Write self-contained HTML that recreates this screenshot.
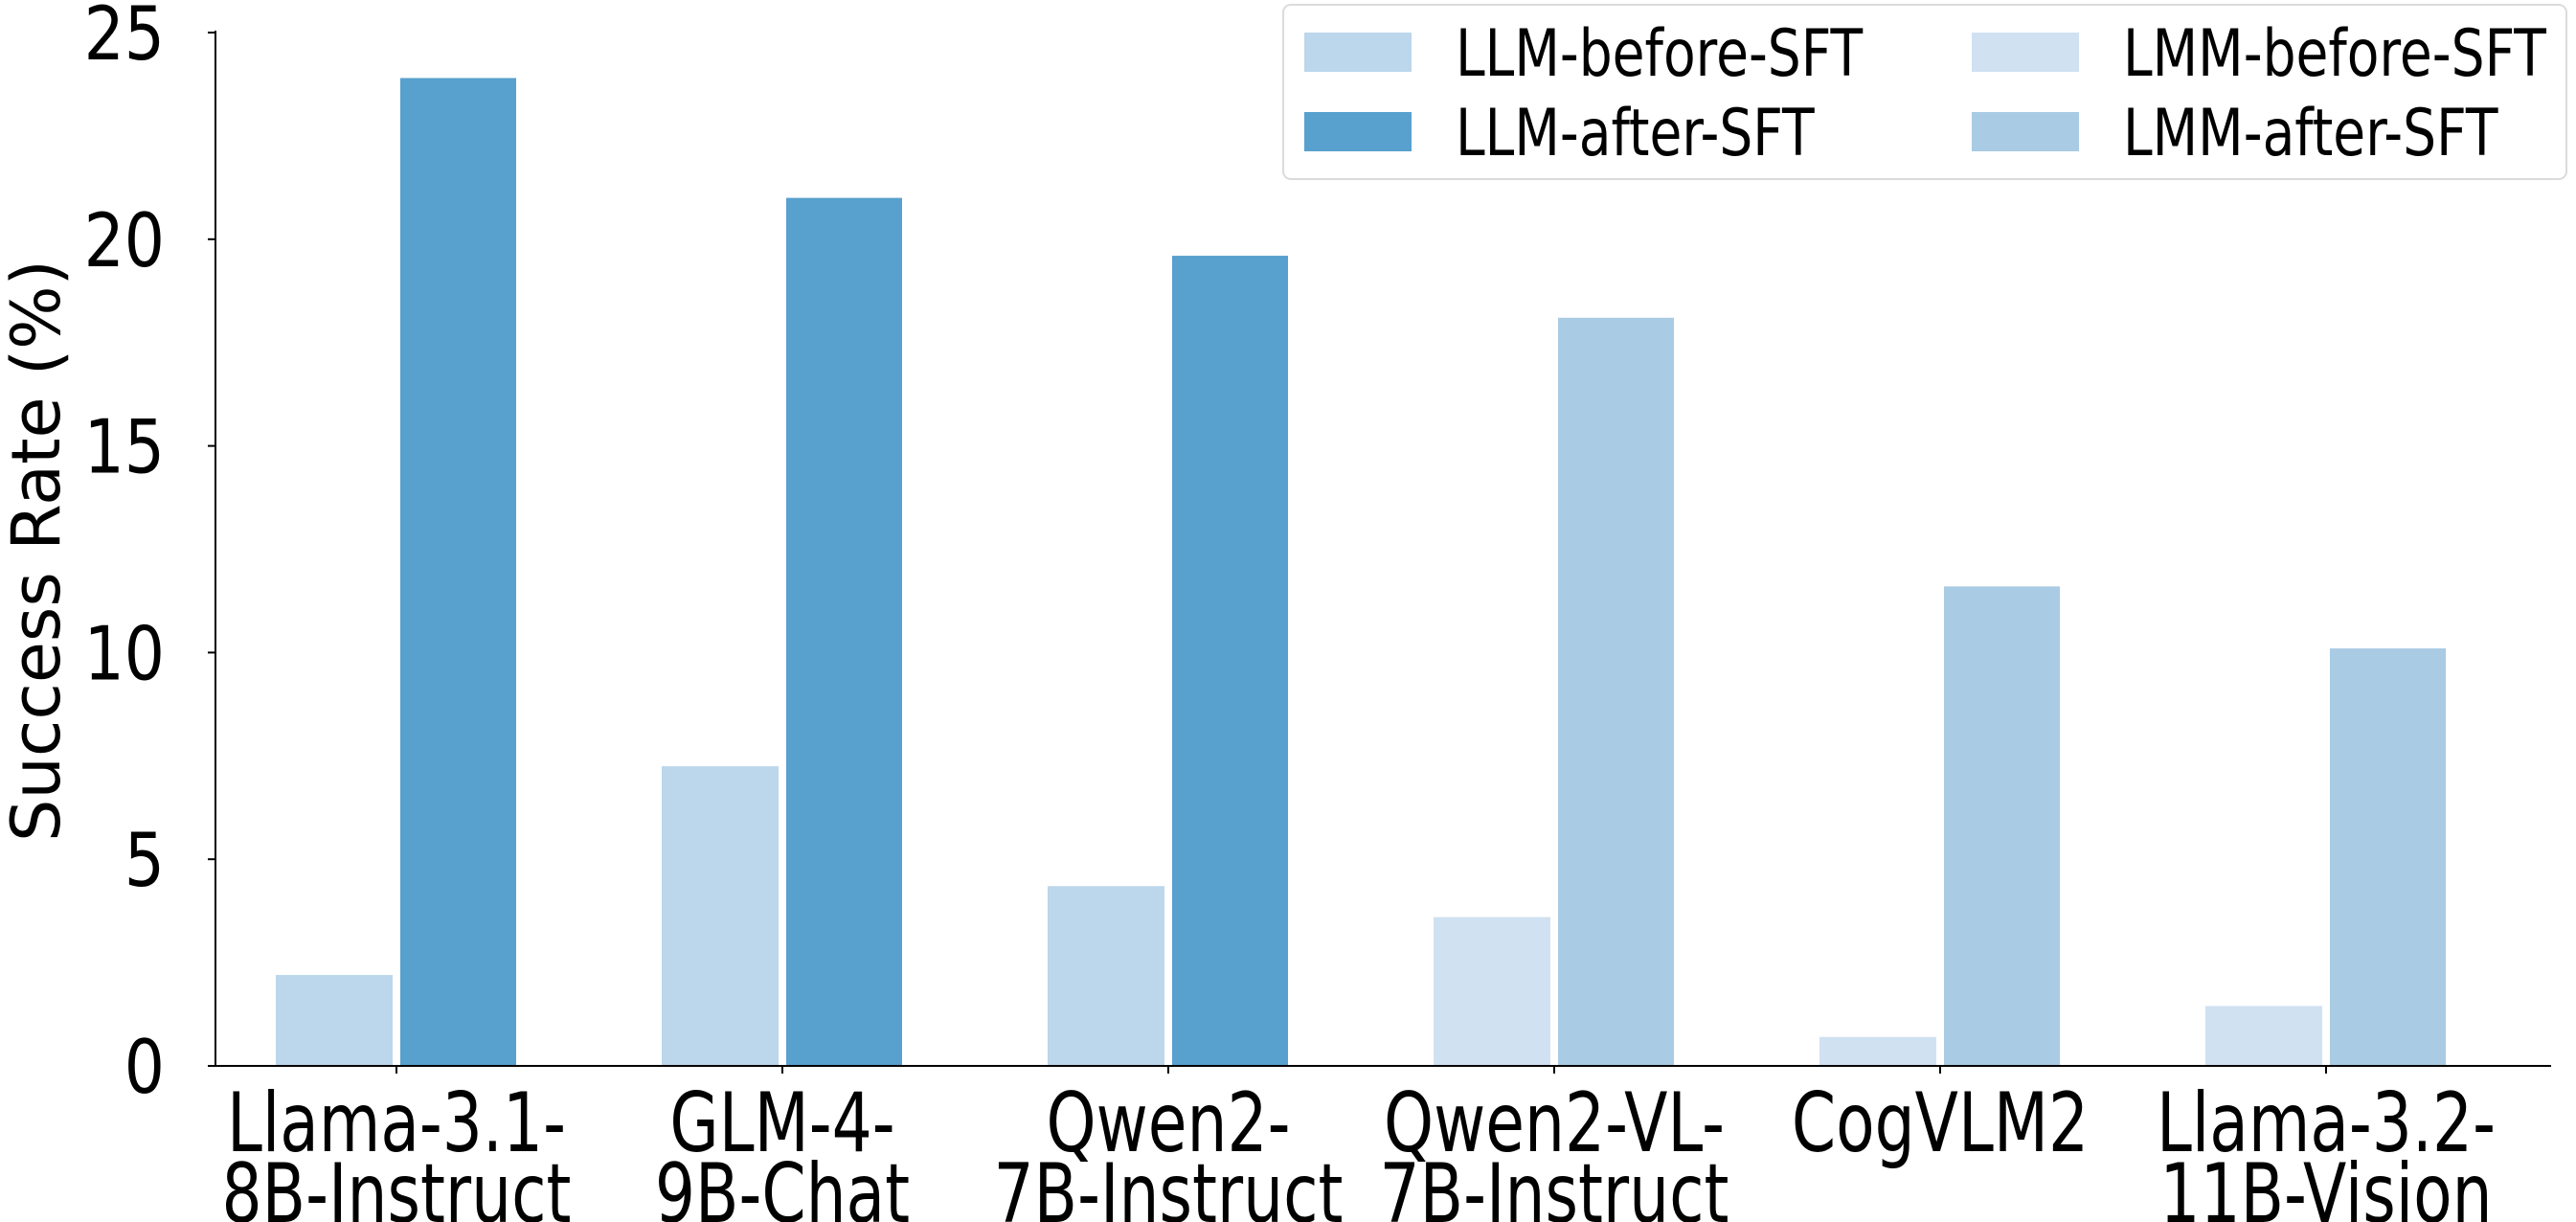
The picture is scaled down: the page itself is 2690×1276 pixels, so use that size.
<!DOCTYPE html>
<html><head><meta charset="utf-8"><style>
html,body{margin:0;padding:0;background:#fff;}
svg{display:block;font-family:"DejaVu Sans","Liberation Sans",sans-serif;}
</style></head><body>
<svg id="chart" width="2690" height="1276" viewBox="0 0 2690 1276"></svg>
<script>
const categories = [["Llama-3.1-","8B-Instruct"],["GLM-4-","9B-Chat"],["Qwen2-","7B-Instruct"],["Qwen2-VL-","7B-Instruct"],["CogVLM2",""],["Llama-3.2-","11B-Vision"]];
const beforeValues = [2.2, 7.25, 4.35, 3.6, 0.7, 1.45];
const afterValues = [23.9, 21.0, 19.6, 18.1, 11.6, 10.1];
const isLMM = [false, false, false, true, true, true];
const yTicks = [0, 5, 10, 15, 20, 25];
const legendLabels = ["LLM-before-SFT","LLM-after-SFT","LMM-before-SFT","LMM-after-SFT"];

const NS="http://www.w3.org/2000/svg";
const svg=document.getElementById('chart');
const C={llmB:"#bcd6eb",llmA:"#58a0cd",lmmB:"#d0e1f1",lmmA:"#a9cbe4"};
const X0=225,X1=2664,Y0=1113,Y25=34;
const y=v=>Y0-(v/25)*(Y0-Y25);
const cx=i=>414+i*403;
function mk(t,a,txt){const e=document.createElementNS(NS,t);for(const k in a)e.setAttribute(k,a[k]);if(txt!==undefined)e.textContent=txt;svg.appendChild(e);return e;}
function sText(x,yy,s,size,sx,anchor){
  return mk('text',{x:0,y:0,'text-anchor':anchor,'font-size':size,fill:'#000',transform:`translate(${x},${yy}) scale(${sx},1)`},s);
}

categories.forEach((c,i)=>{
  const b=mk('rect',{x:cx(i)-126,y:y(beforeValues[i]),width:122,height:Y0-y(beforeValues[i]),fill:isLMM[i]?C.lmmB:C.llmB});
  
  
  const a=mk('rect',{x:cx(i)+4,y:y(afterValues[i]),width:121,height:Y0-y(afterValues[i]),fill:isLMM[i]?C.lmmA:C.llmA});
  
  
  const tk=mk('line',{x1:cx(i),x2:cx(i),y1:Y0,y2:Y0+8,stroke:'#000','stroke-width':2});
  
  
  c.forEach((ln,j)=>{ if(!ln)return;
    const t=sText(cx(i),1202+j*74,ln,86,0.77,'middle');
    
    
  });
});
yTicks.forEach(v=>{
  const l=mk('line',{x1:X0-8,x2:X0,y1:y(v),y2:y(v),stroke:'#000','stroke-width':2});
  
  
  const t=sText(172,y(v)+28,String(v),78,0.85,'end');
  
  
});
const ys=mk('line',{x1:X0,x2:X0,y1:Y25-2,y2:Y0,stroke:'#000','stroke-width':2});

const xs=mk('line',{x1:X0,x2:X1,y1:Y0,y2:Y0,stroke:'#000','stroke-width':2});

const yt=mk('text',{x:0,y:0,'text-anchor':'middle','font-size':70,fill:'#000',transform:'translate(62,575) rotate(-90)'},'Success Rate (%)');


const lg=mk('rect',{x:1340,y:5,width:1340,height:182,rx:8,fill:'#fff',stroke:'#d8d8d8','stroke-width':2,opacity:0.9});

const lcol=[C.llmB,C.llmA,C.lmmB,C.lmmA];
legendLabels.forEach((s,k)=>{
  const col=Math.floor(k/2),row=k%2;
  const sx=col?2059:1362, ty=row?117:34;
  const r=mk('rect',{x:sx,y:ty,width:112,height:41,fill:lcol[k]});
  
  const t=sText(sx+158,ty+45,s,68,0.81,'start');
  
});
</script>
</body></html>
